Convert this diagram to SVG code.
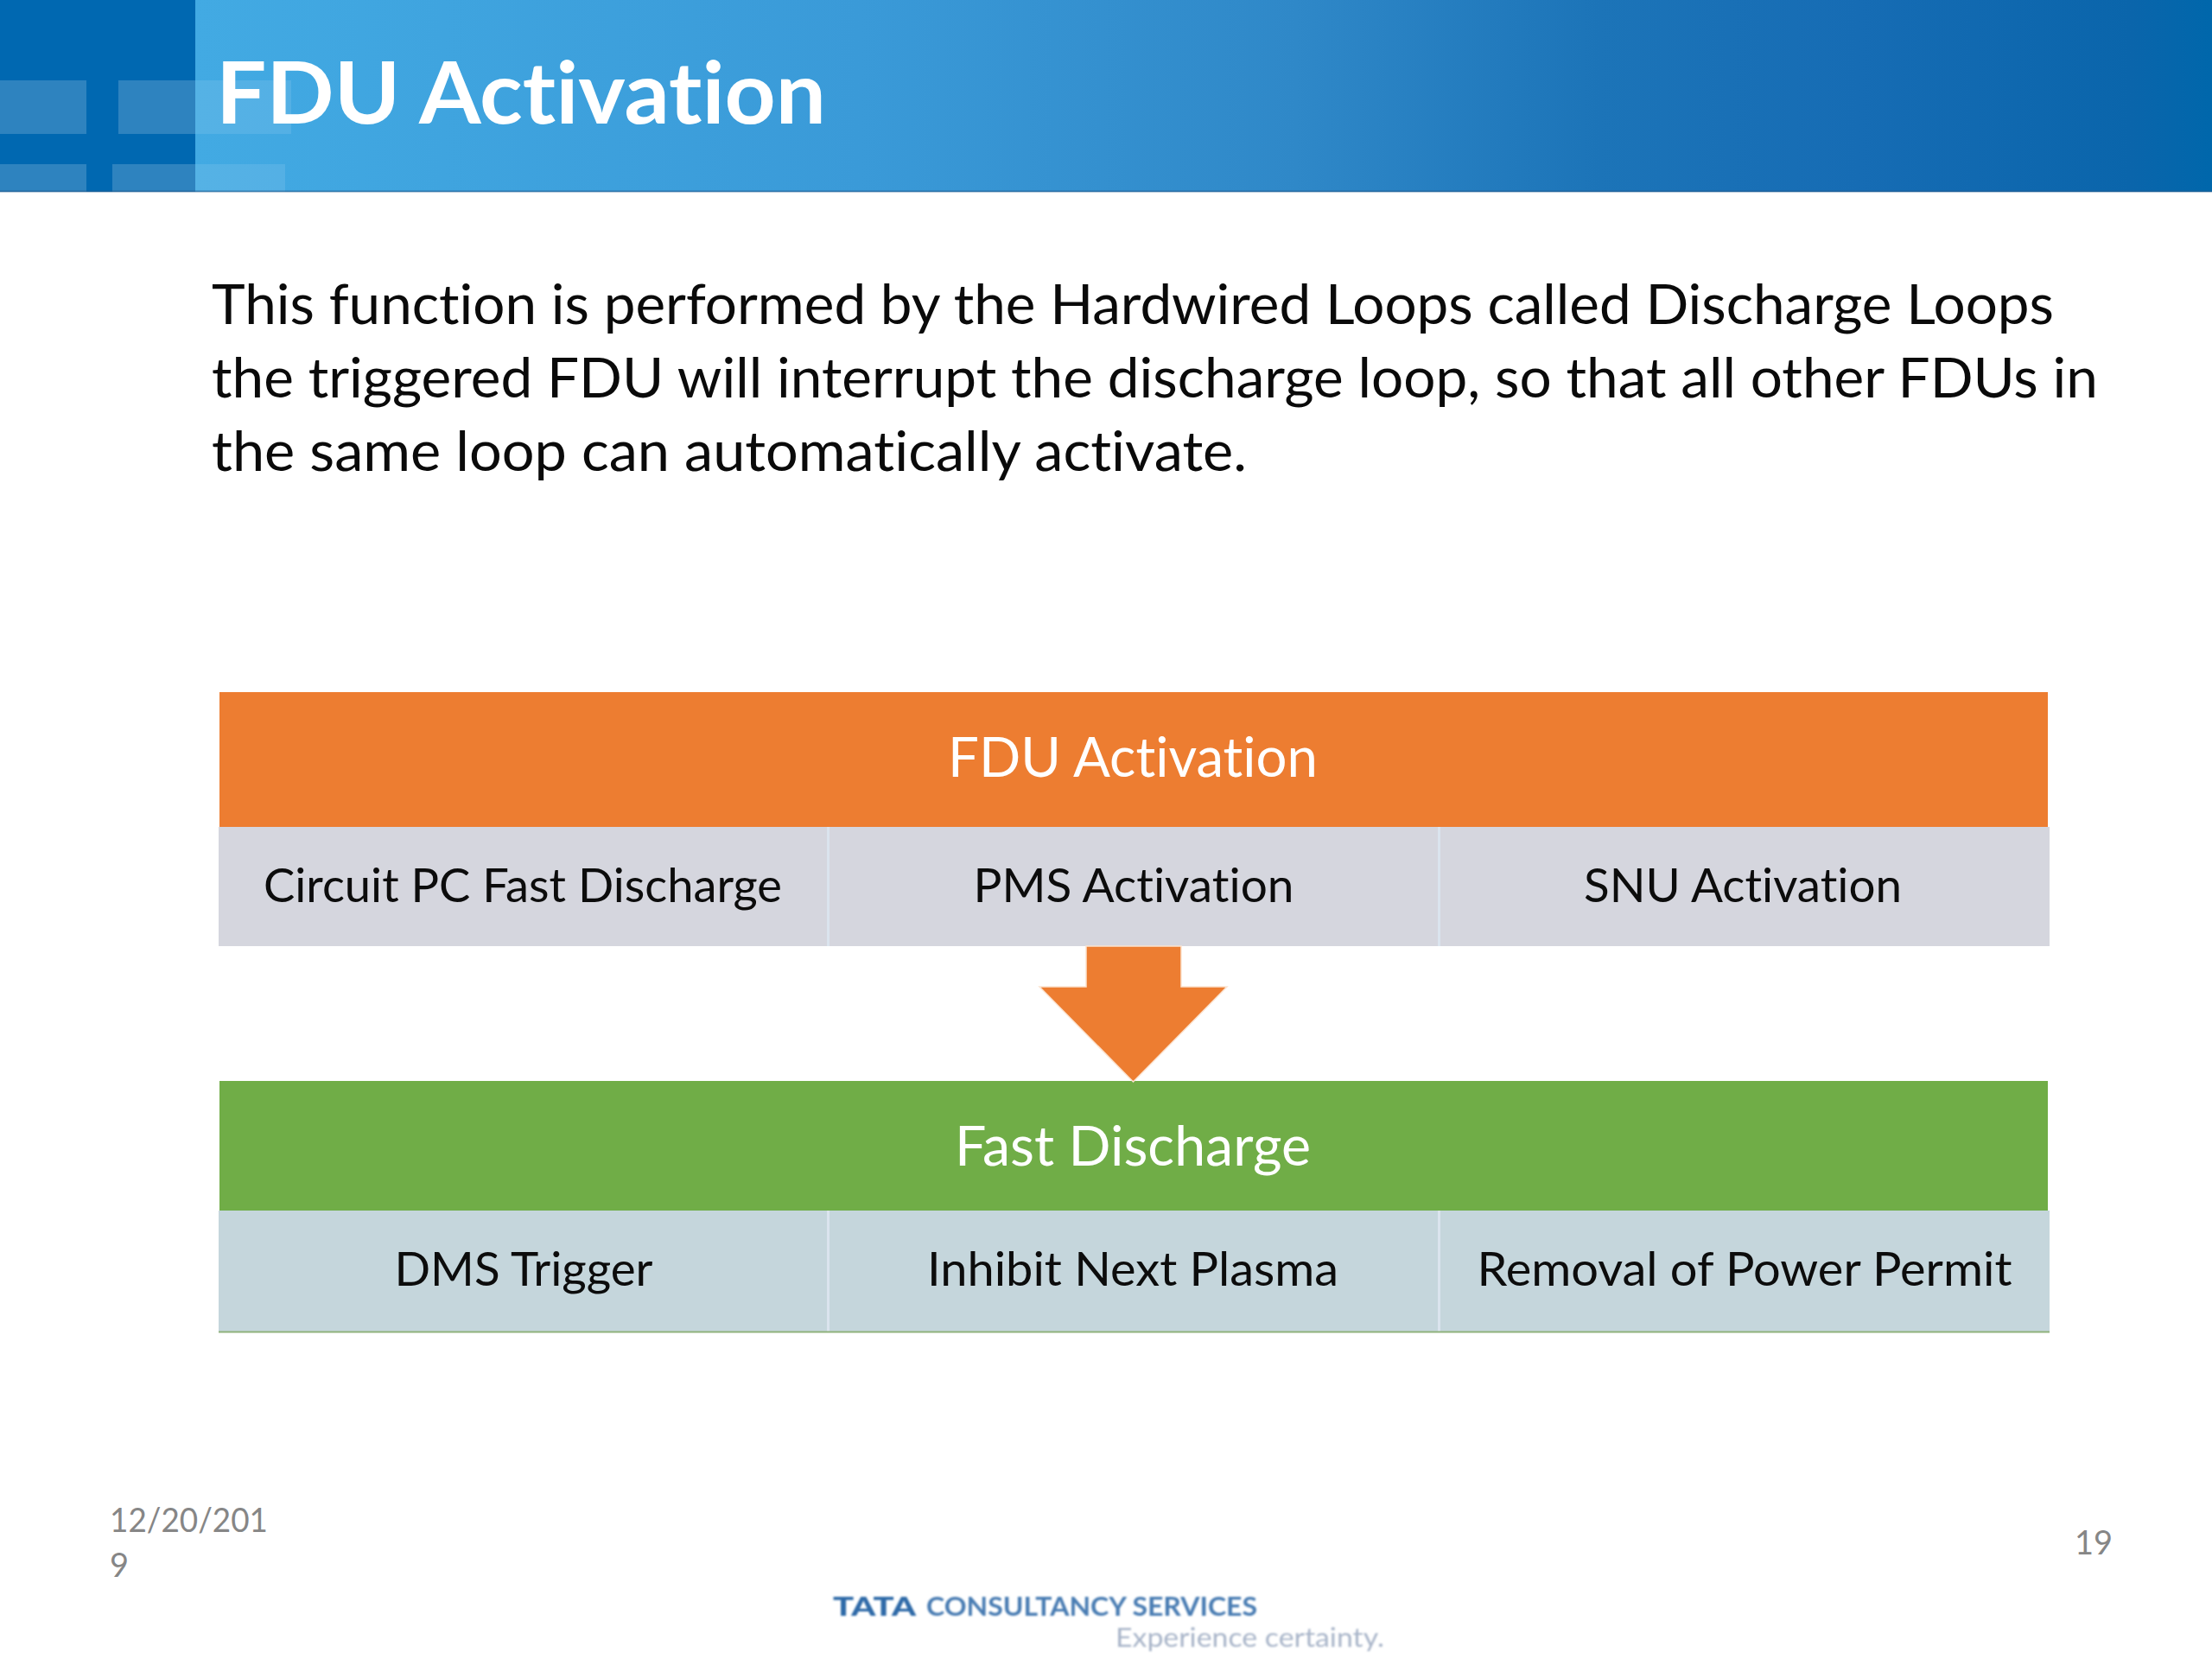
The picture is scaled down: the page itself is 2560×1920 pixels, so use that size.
<svg xmlns="http://www.w3.org/2000/svg" width="2560" height="1920" viewBox="0 0 2560 1920">
<style>
text{font-family:Lato,"Liberation Sans",sans-serif;font-variant-ligatures:none}
.title{font-size:100px;font-weight:700;fill:#fff}
.body{font-size:63px;fill:#0a0a0a}
.hd{font-size:63px;fill:#fff;text-anchor:middle}
.cell{font-size:55px;fill:#0c0c0c;text-anchor:middle}
.foot{font-size:38px;fill:#868686}
.div{stroke:#dbe4ee;stroke-width:3}
</style>
<defs>
<linearGradient id="hdr" gradientUnits="userSpaceOnUse" x1="226" x2="2560" y1="0" y2="0">
<stop offset="0" stop-color="#42aae3"/>
<stop offset="0.33" stop-color="#3a9ad8"/>
<stop offset="0.546" stop-color="#2f88c8"/>
<stop offset="0.696" stop-color="#1c74b8"/>
<stop offset="0.825" stop-color="#166cb4"/>
<stop offset="0.96" stop-color="#0a65ab"/>
<stop offset="1" stop-color="#0067ab"/>
</linearGradient>
<filter id="soft" x="-5%" y="-20%" width="110%" height="140%"><feGaussianBlur stdDeviation="1.1"/></filter>
</defs>
<rect width="2560" height="1920" fill="#fff"/>
<g id="header">
<rect x="226" y="0" width="2334" height="222" fill="url(#hdr)"/>
<rect x="0" y="0" width="226" height="222" fill="#0068b1"/>
<g fill="#fff" fill-opacity="0.18">
<rect x="0" y="93" width="100" height="62"/>
<rect x="137" y="93" width="89" height="62"/>
<rect x="0" y="190" width="100" height="32"/>
<rect x="130" y="190" width="96" height="32"/>
</g>
<g fill="#fff" fill-opacity="0.1">
<rect x="226" y="93" width="111" height="62"/>
<rect x="226" y="190" width="104" height="32"/>
</g>
<rect x="0" y="220.500" width="2560" height="2" fill="#2a5f8f" fill-opacity="0.6"/>
<text class="title" x="250" y="143" textLength="706" lengthAdjust="spacingAndGlyphs">FDU Activation</text>
</g>
<g id="body-text">
<text class="body" x="245" y="375" textLength="2132" lengthAdjust="spacingAndGlyphs">This function is performed by the Hardwired Loops called Discharge Loops</text>
<text class="body" x="245" y="460" textLength="2183" lengthAdjust="spacingAndGlyphs">the triggered FDU will interrupt the discharge loop, so that all other FDUs in</text>
<text class="body" x="245" y="545" textLength="1198" lengthAdjust="spacingAndGlyphs">the same loop can automatically activate.</text>
</g>
<g id="fdu-activation">
<rect x="254" y="801" width="2116" height="156" fill="#ed7d31"/>
<text class="hd" x="1311" y="899" textLength="428" lengthAdjust="spacingAndGlyphs">FDU Activation</text>
</g>
<g id="circuit-pc"><rect x="253" y="957" width="705" height="138" fill="#d5d6de"/>
<text class="cell" x="605" y="1044" textLength="600" lengthAdjust="spacingAndGlyphs">Circuit PC Fast Discharge</text></g>
<g id="pms"><rect x="958" y="957" width="707" height="138" fill="#d5d6de"/>
<text class="cell" x="1312" y="1044" textLength="371" lengthAdjust="spacingAndGlyphs">PMS Activation</text></g>
<g id="snu"><rect x="1665" y="957" width="707" height="138" fill="#d5d6de"/>
<text class="cell" x="2017" y="1044" textLength="368" lengthAdjust="spacingAndGlyphs">SNU Activation</text></g>
<g id="fast-discharge">
<rect x="254" y="1251" width="2116" height="150" fill="#70ad47"/>
<text class="hd" x="1311" y="1349" textLength="412" lengthAdjust="spacingAndGlyphs">Fast Discharge</text>
</g>
<g id="dms"><rect x="253" y="1401" width="705" height="140" fill="#c5d6dc"/>
<text class="cell" x="606" y="1488" textLength="299" lengthAdjust="spacingAndGlyphs">DMS Trigger</text></g>
<g id="inhibit"><rect x="958" y="1401" width="707" height="140" fill="#c5d6dc"/>
<text class="cell" x="1311" y="1488" textLength="476" lengthAdjust="spacingAndGlyphs">Inhibit Next Plasma</text></g>
<g id="removal"><rect x="1665" y="1401" width="707" height="140" fill="#c5d6dc"/>
<text class="cell" x="2019" y="1488" textLength="619" lengthAdjust="spacingAndGlyphs">Removal of Power Permit</text></g>
<g id="table-lines">
<line class="div" x1="958.500" y1="957" x2="958.500" y2="1095"/>
<line class="div" x1="1665.500" y1="957" x2="1665.500" y2="1095"/>
<line class="div" x1="958.500" y1="1401" x2="958.500" y2="1541"/>
<line class="div" x1="1665.500" y1="1401" x2="1665.500" y2="1541"/>
<line x1="253" y1="1541.500" x2="2372" y2="1541.500" stroke="#8fb27c" stroke-width="2"/>
</g>
<g id="connectors">
<polygon points="1257,1095 1367,1095 1367,1142 1420,1142 1311.500,1252 1203,1142 1257,1142" fill="#ed7d31" stroke="#fbe3d0" stroke-width="1.500" stroke-linejoin="miter"/>
</g>
<g id="footer">
<text class="foot" x="127" y="1773" textLength="183" lengthAdjust="spacingAndGlyphs">12/20/201</text>
<text class="foot" x="127" y="1825">9</text>
<text class="foot" x="2401" y="1799">19</text>
</g>
<g id="logo" filter="url(#soft)">
<text x="964" y="1870" font-size="31" font-weight="900" fill="#2f6aa8" textLength="96" lengthAdjust="spacingAndGlyphs">TATA</text>
<text x="1072" y="1870" font-size="31" font-weight="700" fill="#4a7db3" textLength="383" lengthAdjust="spacingAndGlyphs">CONSULTANCY SERVICES</text>
<text x="1291" y="1906" font-size="31" fill="#a9b5c9" textLength="311" lengthAdjust="spacingAndGlyphs">Experience certainty.</text>
</g>
</svg>
